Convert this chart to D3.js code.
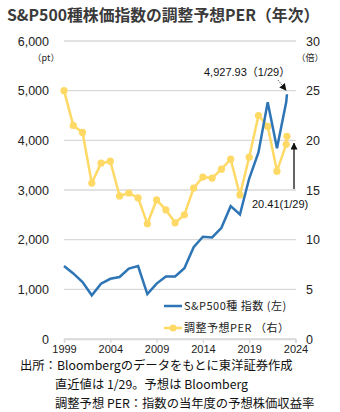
<!DOCTYPE html>
<html>
<head>
<meta charset="utf-8">
<script src="https://cdn.jsdelivr.net/npm/d3@7"></script>
<style>
  body { margin: 0; background: #fff; }
  text { font-family: "Liberation Sans", "Noto Sans CJK JP", sans-serif; }
  .jp { font-family: "Noto Sans CJK JP", sans-serif; }
</style>
</head>
<body>
<div id="chart"></div>
<script>
// year-end observations, last one is the latest close (1/29)
const dates = ["1999-12-31", "2000-12-31", "2001-12-31", "2002-12-31", "2003-12-31",
  "2004-12-31", "2005-12-31", "2006-12-31", "2007-12-31", "2008-12-31",
  "2009-12-31", "2010-12-31", "2011-12-31", "2012-12-31", "2013-12-31",
  "2014-12-31", "2015-12-31", "2016-12-31", "2017-12-31", "2018-12-31",
  "2019-12-31", "2020-12-31", "2021-12-31", "2022-12-31", "2023-12-31",
  "2024-01-29"];
const spx = [1469, 1320, 1148, 880, 1112, 1212, 1248, 1418, 1468, 903,
  1115, 1258, 1258, 1426, 1848, 2059, 2044, 2239, 2674, 2507,
  3231, 3756, 4766, 3840, 4770, 4927.93];
const per = [25.0, 21.5, 20.8, 15.7, 17.7, 17.9, 14.4, 14.7, 14.2, 11.6,
  14.0, 13.0, 11.7, 12.5, 15.2, 16.3, 16.2, 17.1, 18.1, 14.5,
  18.3, 22.5, 21.4, 16.9, 19.6, 20.41];
const xTicks = ["1999-12-31", "2004-12-31", "2009-12-31", "2014-12-31", "2019-12-31", "2024-12-31"];
const leftTicks = [0, 1000, 2000, 3000, 4000, 5000, 6000];
const rightTicks = [0, 5, 10, 15, 20, 25, 30];

const parse = d3.timeParse("%Y-%m-%d");
const data = dates.map((d, i) => ({date: parse(d), spx: spx[i], per: per[i]}));
const last = data[data.length - 1];

const W = 340, H = 412;
const svg = d3.select("#chart").append("svg")
  .attr("width", W)
  .attr("height", H);

const x = d3.scaleTime()
  .domain([parse(xTicks[0]), parse(xTicks[xTicks.length - 1])])
  .range([64, 295.5]);
const yL = d3.scaleLinear().domain([0, 6000]).range([339, 41]);
const yR = d3.scaleLinear().domain([0, 30]).range([339, 41]);

// title
svg.append("text")
  .attr("class", "jp")
  .attr("x", 7).attr("y", 21)
  .attr("font-size", 15.8)
  .attr("font-weight", "bold")
  .attr("fill", "#3a3a3a")
  .text("S&P500種株価指数の調整予想PER（年次）");

// gridlines
svg.append("g")
  .selectAll("line")
  .data(leftTicks)
  .join("line")
  .attr("x1", 64).attr("x2", 296)
  .attr("y1", d => yL(d)).attr("y2", d => yL(d))
  .attr("stroke", "#d9d9d9")
  .attr("stroke-width", 1.3);

// left axis
const gl = svg.append("g")
  .attr("transform", "translate(49,0)")
  .call(d3.axisLeft(yL).tickValues(leftTicks).tickFormat(d3.format(",")).tickSize(0).tickPadding(0));
gl.select(".domain").remove();
gl.selectAll("text").attr("font-size", 12.5).attr("fill", "#222");

// right axis
const gr = svg.append("g")
  .attr("transform", "translate(306,0)")
  .call(d3.axisRight(yR).tickValues(rightTicks).tickSize(0).tickPadding(0));
gr.select(".domain").remove();
gr.selectAll("text").attr("font-size", 12.5).attr("fill", "#222");

// bottom axis
const gx = svg.append("g")
  .attr("transform", "translate(0,339)")
  .call(d3.axisBottom(x).tickValues(xTicks.map(parse)).tickFormat(d3.timeFormat("%Y")).tickSize(4).tickPadding(2));
gx.select(".domain").attr("stroke", "#d9d9d9").attr("stroke-width", 1.3);
gx.selectAll(".tick line").attr("stroke", "#d9d9d9").attr("stroke-width", 1.3);
gx.selectAll("text").attr("font-size", 11).attr("fill", "#222");

// units
svg.append("text").attr("class", "jp")
  .attr("x", 46).attr("y", 61).attr("text-anchor", "middle")
  .attr("font-size", 9).attr("fill", "#222").text("（pt）");
svg.append("text").attr("class", "jp")
  .attr("x", 310).attr("y", 61).attr("text-anchor", "middle")
  .attr("font-size", 9).attr("fill", "#222").text("（倍）");

// PER line with markers
const perLine = d3.line().x(d => x(d.date)).y(d => yR(d.per));
svg.append("path")
  .datum(data)
  .attr("d", perLine)
  .attr("fill", "none")
  .attr("stroke", "#ffd966")
  .attr("stroke-width", 2.5);
svg.append("g")
  .selectAll("circle")
  .data(data)
  .join("circle")
  .attr("cx", d => x(d.date))
  .attr("cy", d => yR(d.per))
  .attr("r", 3.6)
  .attr("fill", "#ffd966");

// index line
const spxLine = d3.line().x(d => x(d.date)).y(d => yL(d.spx));
svg.append("path")
  .datum(data)
  .attr("d", spxLine)
  .attr("fill", "none")
  .attr("stroke", "#2e75b6")
  .attr("stroke-width", 2.5);

// arrowheads
const defs = svg.append("defs");
defs.append("marker")
  .attr("id", "arrow")
  .attr("viewBox", "0 0 10 10")
  .attr("refX", 9).attr("refY", 5)
  .attr("markerWidth", 7).attr("markerHeight", 7)
  .attr("markerUnits", "userSpaceOnUse")
  .attr("orient", "auto")
  .append("path")
  .attr("d", "M0,0L10,5L0,10z")
  .attr("fill", "#111");

// latest index annotation
svg.append("text")
  .attr("x", 204).attr("y", 76)
  .attr("font-size", 11).attr("fill", "#111")
  .text(d3.format(",.2f")(last.spx) + "（1/29）");
svg.append("line")
  .attr("x1", 278).attr("y1", 80)
  .attr("x2", x(last.date) - 1).attr("y2", yL(last.spx) - 4)
  .attr("stroke", "#444").attr("stroke-width", 0.8)
  .attr("stroke-dasharray", "1.5,1")
  .attr("marker-end", "url(#arrow)");

// latest PER annotation
svg.append("text")
  .attr("x", 252).attr("y", 208)
  .attr("font-size", 11).attr("fill", "#111")
  .text(last.per.toFixed(2) + "(1/29)");
svg.append("line")
  .attr("x1", 294).attr("y1", 189)
  .attr("x2", 294).attr("y2", yR(last.per) + 7)
  .attr("stroke", "#111").attr("stroke-width", 1.3)
  .attr("marker-end", "url(#arrow)");

// legend
const legend = [
  {label: "S&P500種 指数 (左)", color: "#2e75b6", dot: false},
  {label: "調整予想PER （右）", color: "#ffd966", dot: true}
];
const lg = svg.append("g")
  .selectAll("g")
  .data(legend)
  .join("g")
  .attr("transform", (d, i) => `translate(164,${306 + i * 22})`);
lg.append("line")
  .attr("x1", 0).attr("x2", 18)
  .attr("stroke", d => d.color)
  .attr("stroke-width", 2.5);
lg.filter(d => d.dot).append("circle")
  .attr("cx", 9).attr("r", 3.6)
  .attr("fill", d => d.color);
lg.append("text")
  .attr("class", "jp")
  .attr("x", 20).attr("y", 4)
  .attr("font-size", 11)
  .attr("letter-spacing", 0.5)
  .attr("fill", "#222")
  .text(d => d.label);

// source notes
const notes = [
  {x: 20, t: "出所：Bloombergのデータをもとに東洋証券作成"},
  {x: 55, t: "直近値は 1/29。予想は Bloomberg"},
  {x: 55, t: "調整予想 PER：指数の当年度の予想株価収益率"}
];
svg.append("g")
  .selectAll("text")
  .data(notes)
  .join("text")
  .attr("class", "jp")
  .attr("x", d => d.x)
  .attr("y", (d, i) => 369.5 + i * 19)
  .attr("font-size", 12.3)
  .attr("fill", "#111")
  .text(d => d.t);
</script>
</body>
</html>
